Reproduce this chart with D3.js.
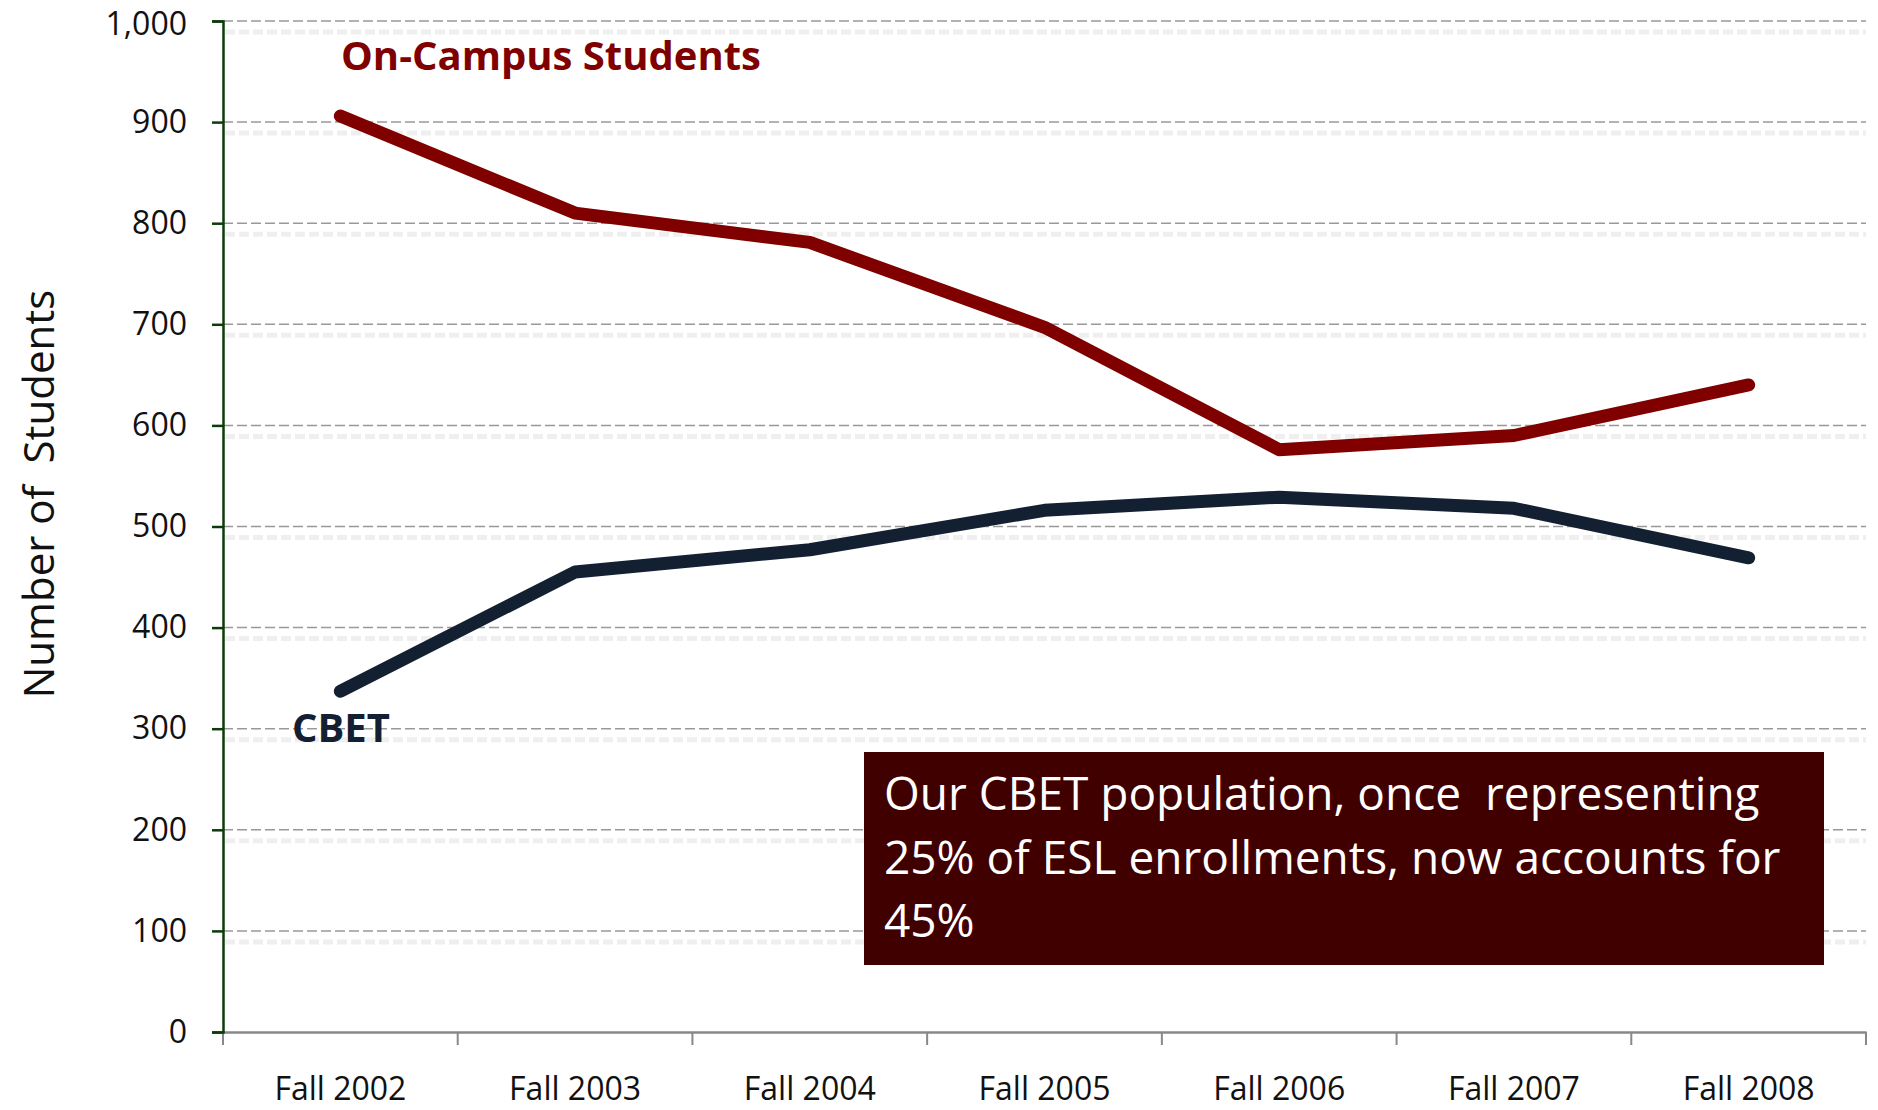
<!DOCTYPE html>
<html>
<head>
<meta charset="utf-8">
<script src="https://cdn.jsdelivr.net/npm/d3@7"></script>
<style>
  html, body { margin: 0; padding: 0; background: #fff; }
  svg { display: block; font-family: "Open Sans", sans-serif; }
</style>
</head>
<body>
<svg id="chart" width="1878" height="1110"></svg>
<script>
const years = ['Fall 2002', 'Fall 2003', 'Fall 2004', 'Fall 2005', 'Fall 2006', 'Fall 2007', 'Fall 2008'];
const onCampus = [906, 810, 781, 697, 576, 590, 640];
const cbet = [337, 455, 477, 516, 529, 518, 469];
const yTicks = [0, 100, 200, 300, 400, 500, 600, 700, 800, 900, 1000];
const noteLines = ['Our CBET population, once  representing', '25% of ESL enrollments, now accounts for', '45%'];

const svg = d3.select('#chart');
const plotL = 223, plotR = 1866, plotT = 21, plotB = 1032;

const x = d3.scaleBand().domain(years).range([plotL, plotR]).padding(0);
const y = d3.scaleLinear().domain([0, 1000]).range([plotB, plotT]);
const cx = d => x(d) + x.bandwidth() / 2;

// gridlines with the faint shadow under them
const grid = svg.append('g');
grid.selectAll('line.shadow')
  .data(yTicks.filter(d => d > 0))
  .join('line')
  .attr('class', 'shadow')
  .attr('x1', plotL + 2).attr('x2', plotR)
  .attr('y1', d => y(d) + 11).attr('y2', d => y(d) + 11)
  .attr('stroke', '#efefef')
  .attr('stroke-width', 5)
  .attr('stroke-dasharray', '10,4');
grid.selectAll('line.grid')
  .data(yTicks.filter(d => d > 0))
  .join('line')
  .attr('class', 'grid')
  .attr('x1', plotL).attr('x2', plotR)
  .attr('y1', d => y(d)).attr('y2', d => y(d))
  .attr('stroke', '#999')
  .attr('stroke-width', 1.5)
  .attr('stroke-dasharray', '10,4');

// x axis
const xAxis = svg.append('g')
  .attr('transform', `translate(0,${plotB})`)
  .call(d3.axisBottom(x).tickSize(0).tickPadding(0));
xAxis.select('.domain').attr('stroke', '#888').attr('stroke-width', 2.5);
xAxis.selectAll('text')
  .attr('y', 68).attr('dy', 0)
  .attr('font-size', 32)
  .attr('font-family', '"Open Sans", sans-serif')
  .attr('fill', '#111');
xAxis.selectAll('line.bound')
  .data(years.map(d => x(d)).concat([plotR]))
  .join('line')
  .attr('class', 'bound')
  .attr('x1', d => d).attr('x2', d => d)
  .attr('y1', 0).attr('y2', 13)
  .attr('stroke', '#888').attr('stroke-width', 2);

// y axis
const yAxis = svg.append('g')
  .attr('transform', `translate(${plotL},0)`)
  .call(d3.axisLeft(y).tickValues(yTicks).tickFormat(d3.format(',')).tickSize(11).tickPadding(25));
yAxis.select('.domain').attr('stroke', '#0b3d0b').attr('stroke-width', 2.5);
yAxis.selectAll('.tick line').attr('stroke', '#0b3d0b').attr('stroke-width', 2.5);
yAxis.selectAll('text')
  .attr('font-size', 32)
  .attr('font-family', '"Open Sans", sans-serif')
  .attr('fill', '#111')
  .attr('dy', d => d === 1000 ? '0.42em' : '0.32em');

svg.append('text')
  .attr('transform', `translate(54,${(293 + 695) / 2}) rotate(-90)`)
  .attr('text-anchor', 'middle')
  .attr('font-size', 42)
  .attr('fill', '#111')
  .style('white-space', 'pre')
  .text('Number of  Students');

// lines
const line = d3.line().x((d, i) => cx(years[i])).y(d => y(d));
svg.append('path')
  .datum(onCampus)
  .attr('d', line)
  .attr('fill', 'none')
  .attr('stroke', '#800000')
  .attr('stroke-width', 13)
  .attr('stroke-linecap', 'round')
  .attr('stroke-linejoin', 'round');
svg.append('path')
  .datum(cbet)
  .attr('d', line)
  .attr('fill', 'none')
  .attr('stroke', '#132031')
  .attr('stroke-width', 13)
  .attr('stroke-linecap', 'round')
  .attr('stroke-linejoin', 'round');

// series labels
svg.append('text')
  .attr('x', 341).attr('y', 70)
  .attr('font-size', 40).attr('font-weight', 700)
  .attr('fill', '#800000')
  .text('On-Campus Students');
svg.append('text')
  .attr('x', 292).attr('y', 742)
  .attr('font-size', 40).attr('font-weight', 700)
  .attr('fill', '#132031')
  .text('CBET');

// callout box
svg.append('rect')
  .attr('x', 864).attr('y', 752)
  .attr('width', 1824 - 864).attr('height', 965 - 752)
  .attr('fill', '#400000');
svg.append('g')
  .selectAll('text')
  .data(noteLines)
  .join('text')
  .attr('x', 884)
  .attr('y', (d, i) => 810 + i * 63.5)
  .attr('font-size', 46)
  .attr('fill', '#fff')
  .style('white-space', 'pre')
  .text(d => d);
</script>
</body>
</html>
